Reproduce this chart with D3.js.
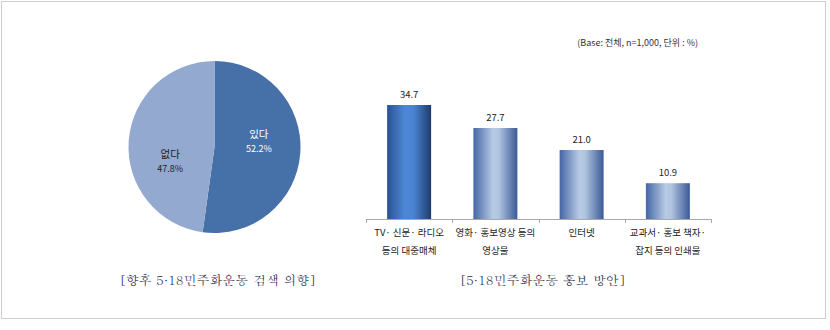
<!DOCTYPE html>
<html>
<head>
<meta charset="utf-8">
<script src="https://cdn.jsdelivr.net/npm/d3@7"></script>
<style>
  body { margin: 0; background: #fff; }
  svg { display: block; font-family: "Noto Sans CJK KR", "Noto Sans", sans-serif; }
</style>
</head>
<body>
<svg width="830" height="330"></svg>
<script>
// data ************************************************************
var pieLabels = ['있다', '없다'];
var pieValues = [52.2, 47.8];

var barCategories = ['TV· 신문· 라디오|등의 대중매체', '영화· 홍보영상 등의|영상물', '인터넷', '교과서· 홍보 책자·|잡지 등의 인쇄물'];
var barValues = [34.7, 27.7, 21.0, 10.9];

var pieTitle = '[향후 5·18민주화운동 검색 의향]';
var barTitle = '[5·18민주화운동 홍보 방안]';
var baseNote = '(Base: 전체, n=1,000, 단위 : %)';

// setup ***********************************************************
var svg = d3.select('svg');

svg.append('rect')
    .attr('x', 1.5).attr('y', 1.5)
    .attr('width', 824).attr('height', 317)
    .attr('fill', 'none')
    .attr('stroke', '#cfcfcf');

var defs = svg.append('defs');

function addGradient(id, stops) {
    var g = defs.append('linearGradient')
        .attr('id', id)
        .attr('x1', '0%').attr('x2', '100%')
        .attr('y1', '0%').attr('y2', '0%');
    stops.forEach(s => g.append('stop').attr('offset', s[0]).attr('stop-color', s[1]));
}
addGradient('barMain', [['0%', '#2a5193'], ['40%', '#4d88d6'], ['60%', '#4a84d2'], ['100%', '#1d3b6e']]);
addGradient('barLight', [['0%', '#4566a5'], ['45%', '#b8cbe5'], ['58%', '#b0c4e0'], ['100%', '#3a5a97']]);

// pie *************************************************************
var pieColors = d3.scaleOrdinal().domain(pieLabels).range(['#4570a8', '#93a9cf']);
var pieTextColors = d3.scaleOrdinal().domain(pieLabels).range(['#ffffff', '#222222']);

var cx = 214.5, cy = 147, radius = 86;
var pie = d3.pie().sort(null).value(d => d.value);
var arc = d3.arc().innerRadius(0).outerRadius(radius);

// labels sit a little counter-clockwise of the slice middle, like the original
var labelRadius = radius * 0.53;
var labelTurn = -0.3;
function labelPos(d) {
    var a = (d.startAngle + d.endAngle) / 2 + labelTurn;
    return [Math.sin(a) * labelRadius, -Math.cos(a) * labelRadius];
}

var pieData = pie(pieLabels.map((label, i) => ({ label, value: pieValues[i] })));

var pieG = svg.append('g').attr('transform', `translate(${cx},${cy})`);

pieG.selectAll('path')
    .data(pieData)
    .enter().append('path')
    .attr('d', arc)
    .attr('fill', d => pieColors(d.data.label));

var pieText = pieG.selectAll('text')
    .data(pieData)
    .enter().append('text')
    .attr('transform', d => `translate(${labelPos(d)})`)
    .attr('text-anchor', 'middle')
    .attr('fill', d => pieTextColors(d.data.label));

pieText.append('tspan')
    .attr('x', 0).attr('y', 1)
    .attr('font-size', 10.5)
    .text(d => d.data.label);
pieText.append('tspan')
    .attr('x', 0).attr('y', 15)
    .attr('font-size', 9)
    .text(d => d3.format('.1f')(d.data.value) + '%');

// bars ************************************************************
var x = d3.scaleBand()
    .domain(barCategories)
    .range([366, 711])
    .paddingInner(0.49)
    .paddingOuter(0.245);

var y = d3.scaleLinear()
    .domain([0, 40])
    .range([219, 87.6]);

var bars = svg.append('g');

bars.selectAll('rect')
    .data(barCategories)
    .enter().append('rect')
    .attr('x', d => x(d))
    .attr('y', (d, i) => y(barValues[i]))
    .attr('width', x.bandwidth())
    .attr('height', (d, i) => y(0) - y(barValues[i]))
    .attr('fill', (d, i) => i === 0 ? 'url(#barMain)' : 'url(#barLight)');

bars.selectAll('text')
    .data(barCategories)
    .enter().append('text')
    .attr('x', d => x(d) + x.bandwidth() / 2)
    .attr('y', (d, i) => y(barValues[i]) - 7)
    .attr('text-anchor', 'middle')
    .attr('font-size', 9.5)
    .attr('fill', '#222')
    .text((d, i) => d3.format('.1f')(barValues[i]));

// axis line with ticks between categories
var axisG = svg.append('g').attr('stroke', '#a8a8a8').attr('fill', 'none');
axisG.append('line')
    .attr('x1', x.range()[0]).attr('x2', x.range()[1])
    .attr('y1', y(0) + 0.5).attr('y2', y(0) + 0.5);
var tickXs = barCategories.map(c => x(c) - x.step() * x.paddingOuter()).concat([x.range()[1]]);
axisG.selectAll('line.tick')
    .data(tickXs)
    .enter().append('line')
    .attr('class', 'tick')
    .attr('x1', d => Math.round(d) + 0.5).attr('x2', d => Math.round(d) + 0.5)
    .attr('y1', y(0)).attr('y2', y(0) + 4);

var catText = svg.append('g').selectAll('text')
    .data(barCategories)
    .enter().append('text')
    .attr('text-anchor', 'middle')
    .attr('font-size', 9.5)
    .attr('fill', '#222');

catText.each(function (d) {
    var t = d3.select(this);
    d.split('|').forEach((line, i) => {
        t.append('tspan')
            .attr('x', x(d) + x.bandwidth() / 2)
            .attr('y', 236 + i * 18)
            .text(line);
    });
});

svg.append('text')
    .attr('x', 698).attr('y', 46)
    .attr('text-anchor', 'end')
    .attr('font-size', 9)
    .attr('fill', '#333')
    .text(baseNote);

// titles **********************************************************
svg.selectAll('text.title')
    .data([{ t: pieTitle, x: 217.5 }, { t: barTitle, x: 542.5 }])
    .enter().append('text')
    .attr('class', 'title')
    .attr('x', d => d.x).attr('y', 285)
    .attr('text-anchor', 'middle')
    .attr('font-size', 13)
    .attr('font-family', 'Batang, "Noto Serif CJK KR", "Noto Sans CJK KR", serif')
    .attr('fill', '#1e2746')
    .text(d => d.t);
</script>
</body>
</html>
